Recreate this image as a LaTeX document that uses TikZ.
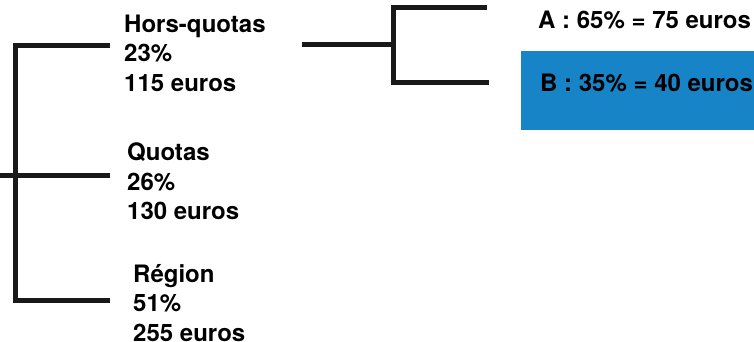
\documentclass[tikz,border=0pt]{standalone}
\usepackage{fontspec}
\setmainfont{TeX Gyre Heros}
\definecolor{boxblue}{RGB}{22,132,198}

\begin{document}
\begin{tikzpicture}[x=1pt,y=-1pt]
\tikzstyle{every node}+=[inner sep=0pt]
\tikzstyle{branch}=[line width=5pt, black!90]
\tikzstyle{label}=[anchor=north west, align=left, font=\bfseries\fontsize{24}{29.5}\selectfont]
\useasboundingbox (0,0) rectangle (754,341);
% left tree
\coordinate (root) at (0,175);
\coordinate (split) at (15,175);
\coordinate (hq) at (110,45);
\coordinate (qu) at (110,175);
\coordinate (reg) at (110,300);
\draw [branch] (hq) -| (split) |- (reg);
\draw [branch] (root) -- (qu);
\node [label] (hqtext) at (124,14.5) {Hors-quotas\\23\%\\115 euros};
\node [label] (qutext) at (127,143) {Quotas\\26\%\\130 euros};
\node [label] (regtext) at (133,264) {Région\\51\%\\255 euros};
% right tree
\coordinate (hqout) at (302,44);
\coordinate (split2) at (393,44);
\coordinate (ca) at (487,7);
\coordinate (cb) at (489,82);
\draw [branch] (ca) -| (split2) |- (cb);
\draw [branch] (hqout) -- (split2);
\fill [boxblue] (521,51) rectangle (754,130);
\node [label] (atext) at (538,11) {A : 65\% = 75 euros};
\node [label] (btext) at (540,74) {B : 35\% = 40 euros};
\end{tikzpicture}
\end{document}
